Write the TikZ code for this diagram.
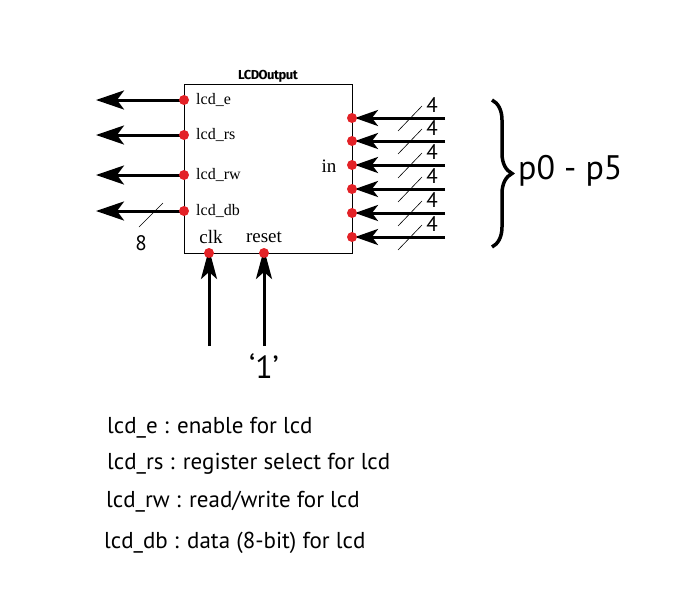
\documentclass[tikz,border=0pt]{standalone}
\usepackage{fontspec}
\setmainfont{Liberation Serif}
\newfontfamily\labsans{PT Sans}
\newfontfamily\titlefont{Fira Sans}
\usetikzlibrary{arrows.meta,decorations.pathreplacing}
\definecolor{dotred}{HTML}{E32227}
\begin{document}
\begin{tikzpicture}[x=1pt,y=-1pt,
  wire/.style={line width=3pt,-{Stealth[length=28pt,width=19pt,inset=7pt]}},
  wirer/.style={line width=3pt,-{Stealth[length=23pt,width=16pt,inset=6pt]}},
  pdot/.style={circle,fill=dotred,inner sep=0pt,minimum size=10pt},
  plab/.style={font=\fontsize{16}{16}\selectfont,inner sep=0pt},
  slash/.style={line width=0.6pt},
  bus/.style={font=\labsans\fontsize{21}{21}\selectfont,inner sep=0pt},
  legend/.style={font=\labsans\fontsize{23}{23}\selectfont,anchor=west,inner sep=0pt}]
\useasboundingbox (0,0) rectangle (700,589);
\fill[white] (0,0) rectangle (700,589);
% box
\node[draw,line width=1pt,minimum width=168pt,minimum height=169pt,inner sep=0pt] (box) at (268,168.5) {};
\node[font=\titlefont\bfseries\fontsize{13}{13}\selectfont,inner sep=0pt,anchor=south] (title) at (268,83) {\addfontfeatures{LetterSpace=-4}LCDOutput};
% left ports
\foreach \n/\y/\t in {e/100/lcd\_e,rs/135/lcd\_rs,rw/175/lcd\_rw,db/211/lcd\_db}{
  \coordinate (L\n) at (184,\y);
  \coordinate (Le\n) at (96,\y);
  \draw[wire] (L\n) -- (Le\n);
  \node[pdot] (dL\n) at (L\n) {};
  \node[plab,anchor=west] (t\n) at (196,\y) {\t};
}
\coordinate (s8a) at (139,227);
\coordinate (s8b) at (163,203);
\draw[slash] (s8a) -- (s8b);
\node[font=\labsans\fontsize{21}{21}\selectfont,inner sep=0pt] (eight) at (141,243) {8};
% bottom ports
\node[plab,font=\fontsize{19}{19}\selectfont] (tclk) at (211,237) {clk};
\node[plab,font=\fontsize{19}{19}\selectfont] (treset) at (264,237) {reset};
\coordinate (clk) at (209,253);
\coordinate (rst) at (264,253);
\coordinate (clks) at (209,346);
\coordinate (rsts) at (264,346);
\draw[line width=3pt,-{Stealth[length=30pt,width=16pt,inset=7pt]}] (clks) -- ([yshift=4]clk);
\draw[line width=3pt,-{Stealth[length=30pt,width=16pt,inset=7pt]}] (rsts) -- ([yshift=4]rst);
\node[pdot] (dclk) at (clk) {};
\node[pdot] (drst) at (rst) {};
\node[font=\labsans\fontsize{32}{32}\selectfont,inner sep=0pt] (one) at (264,366) {‘1’};
% right ports
\node[plab,font=\fontsize{19}{19}\selectfont] (tin) at (329,166) {in};
\foreach \i/\y in {0/118,1/141,2/165,3/189,4/213,5/237}{
  \coordinate (R\i) at (352,\y);
  \coordinate (Rs\i) at (445,\y);
  \draw[wirer] (Rs\i) -- ([xshift=3]R\i);
  \node[pdot] (dR\i) at (R\i) {};
  \draw[slash] (398,\y+13) -- (422,\y-12);
  \node[bus] (four\i) at (432,\y-13) {4};
}
% brace
\coordinate (bt) at (492,100);
\coordinate (bb) at (492,247);
\draw[line width=3.5pt,decorate,decoration={brace,amplitude=20pt,raise=0pt}] (bt) -- (bb);
\node[font=\labsans\fontsize{34}{34}\selectfont,anchor=west,inner sep=0pt] (pp) at (518,171) {p0 - p5};
% legend
\node[legend] (l1) at (107,428) {lcd\_e : enable for lcd};
\node[legend] (l2) at (107,464) {lcd\_rs : register select for lcd};
\node[legend] (l3) at (106,502) {lcd\_rw : read/write for lcd};
\node[legend] (l4) at (104,543) {lcd\_db : data (8-bit) for lcd};
\end{tikzpicture}
\end{document}
